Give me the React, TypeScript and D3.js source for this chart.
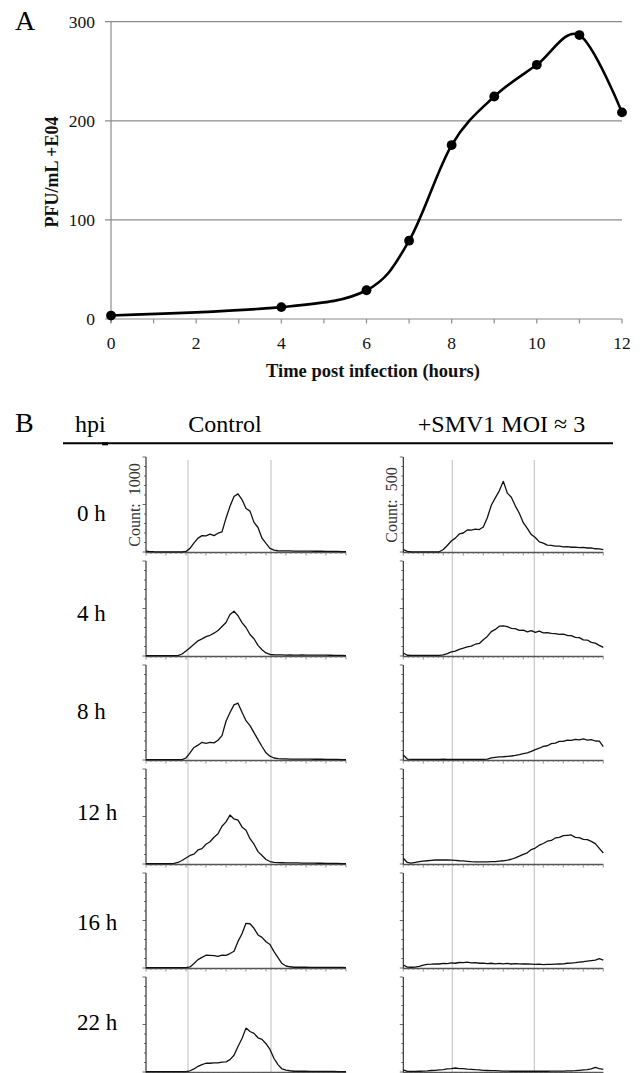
import React from 'react';
import * as d3 from 'd3';

// ---------- Panel A data ----------
const HOURS = [0, 4, 6, 7, 8, 9, 10, 11, 12];
const PFU = [3.5, 12, 29, 79, 175.5, 224.5, 256.5, 286.5, 208.5];
const X_TICK_LABELS = [0, 2, 4, 6, 8, 10, 12];
const Y_TICK_LABELS = [0, 100, 200, 300];

// ---------- Panel B data ----------
const ROW_LABELS = ['0 h', '4 h', '8 h', '12 h', '16 h', '22 h'];
const CHANNELS = [0, 4, 8, 12, 16, 20, 24, 28, 32, 36, 40, 44, 48, 52, 56, 60, 64, 68, 72, 76, 80, 84, 88, 92, 96, 100, 104, 108, 112, 116, 120, 124, 128, 132, 136, 140, 144, 148, 152, 156, 160, 164, 168, 172, 176, 180, 184, 188, 192, 196, 200];
const CONTROL_MAX = 1000;
const SMV1_MAX = 500;
const CONTROL_GATES = [42, 125];
const SMV1_GATES = [49, 131];

const CONTROL_0H = [10, 5, 3, 2, 2, 2, 2, 2, 2, 2, 6, 38, 96, 146, 172, 170, 188, 172, 198, 212, 356, 482, 585, 612, 552, 458, 430, 312, 258, 145, 90, 38, 20, 13, 12, 11, 11, 10, 10, 9, 10, 9, 8, 8, 8, 7, 7, 6, 6, 5, 4];
const CONTROL_4H = [5, 3, 3, 3, 3, 3, 3, 3, 5, 21, 53, 88, 124, 160, 180, 204, 218, 240, 268, 310, 352, 436, 472, 424, 352, 300, 226, 182, 112, 66, 32, 16, 13, 11, 11, 10, 11, 10, 10, 11, 10, 10, 9, 10, 9, 9, 8, 7, 6, 6, 5];
const CONTROL_8H = [5, 3, 3, 3, 3, 3, 3, 3, 3, 3, 21, 74, 132, 156, 186, 176, 186, 180, 208, 256, 408, 500, 580, 598, 502, 414, 362, 288, 214, 142, 76, 40, 21, 14, 11, 11, 10, 10, 10, 9, 9, 9, 8, 8, 8, 7, 7, 6, 6, 5, 5];
const CONTROL_12H = [3, 3, 3, 3, 3, 3, 3, 7, 16, 37, 63, 90, 104, 148, 162, 208, 234, 282, 318, 398, 444, 516, 474, 462, 390, 356, 266, 208, 130, 90, 47, 26, 18, 14, 13, 12, 12, 11, 11, 10, 10, 9, 9, 8, 8, 7, 7, 6, 6, 5, 5];
const CONTROL_16H = [3, 3, 3, 3, 3, 3, 3, 3, 3, 3, 3, 11, 47, 88, 112, 134, 132, 130, 122, 135, 133, 152, 176, 280, 360, 470, 466, 418, 348, 322, 276, 248, 172, 110, 47, 21, 13, 8, 8, 8, 8, 7, 7, 7, 7, 7, 6, 6, 6, 6, 5];
const CONTROL_22H = [3, 3, 3, 3, 3, 3, 3, 3, 3, 3, 3, 13, 32, 60, 77, 92, 92, 97, 95, 103, 107, 130, 176, 268, 352, 462, 426, 406, 360, 344, 298, 238, 142, 78, 32, 19, 13, 8, 8, 8, 8, 7, 7, 7, 6, 6, 6, 6, 5, 5, 5];

const SMV1_0H = [12, 3, 1, 1, 1, 1, 1, 1, 1, 1, 13, 34, 58, 73, 95, 100, 116, 115, 120, 118, 132, 180, 246, 285, 322, 372, 310, 288, 243, 204, 154, 124, 92, 76, 53, 47, 36, 35, 31, 31, 27, 28, 25, 26, 23, 24, 21, 22, 17, 16, 12];
const SMV1_4H = [16, 4, 3, 3, 3, 3, 3, 3, 3, 3, 6, 13, 22, 26, 35, 41, 48, 52, 62, 66, 86, 103, 128, 140, 157, 158, 155, 145, 144, 135, 136, 127, 134, 124, 131, 122, 123, 119, 118, 114, 115, 108, 107, 98, 97, 85, 84, 72, 68, 56, 45];
const SMV1_8H = [26, 5, 3, 3, 3, 3, 3, 3, 3, 3, 4, 3, 3, 3, 3, 3, 3, 3, 3, 3, 3, 5, 11, 14, 16, 17, 19, 21, 24, 28, 33, 38, 45, 55, 62, 72, 75, 86, 89, 98, 98, 105, 103, 109, 106, 111, 105, 107, 100, 99, 70];
const SMV1_12H = [30, 8, 5, 8, 12, 15, 17, 19, 21, 21, 21, 21, 20, 19, 17, 16, 14, 12, 11, 11, 11, 11, 12, 13, 15, 17, 20, 25, 32, 41, 51, 59, 76, 84, 99, 108, 120, 124, 137, 140, 149, 151, 153, 140, 139, 130, 128, 119, 107, 82, 58];
const SMV1_16H = [16, 5, 4, 5, 9, 15, 19, 20, 22, 21, 24, 23, 27, 25, 29, 28, 31, 27, 28, 25, 26, 23, 25, 22, 24, 22, 24, 21, 23, 22, 21, 21, 20, 19, 20, 18, 19, 19, 20, 21, 22, 25, 26, 28, 31, 33, 36, 39, 42, 49, 42];
const SMV1_22H = [11, 3, 3, 3, 4, 5, 6, 8, 9, 11, 13, 16, 18, 21, 18, 18, 15, 14, 12, 11, 9, 8, 7, 7, 6, 5, 5, 4, 4, 4, 4, 4, 4, 4, 4, 4, 4, 5, 5, 5, 5, 6, 6, 7, 9, 11, 13, 16, 24, 18, 14];

const CONTROL_SERIES = [CONTROL_0H, CONTROL_4H, CONTROL_8H, CONTROL_12H, CONTROL_16H, CONTROL_22H];
const SMV1_SERIES = [SMV1_0H, SMV1_4H, SMV1_8H, SMV1_12H, SMV1_16H, SMV1_22H];

const SERIF = "'Liberation Serif', 'Times New Roman', Times, serif";

// layout
const A_LEFT = 111, A_RIGHT = 622, A_TOP = 21.7, A_BOTTOM = 319;
const ROW0_BASE = 552, ROW_STEP = 104, PLOT_H = 95, PLOT_W = 200;
const COL_X = [146, 403.3];
const ROW_LABEL_Y = [513, 613, 711, 812, 922, 1022];

function Histogram({ values, x0, base, max, countLabel }: { values: number[]; x0: number; base: number; max: number; countLabel?: string }) {
  const x = d3.scaleLinear().domain([0, 200]).range([x0, x0 + PLOT_W]);
  const y = d3.scaleLinear().domain([0, max]).range([base, base - PLOT_H]);
  const line = d3.line<number>().x((_, i) => x(CHANNELS[i])).y((d) => y(d)).curve(d3.curveLinear);
  const yTicks = y.ticks(10);
  const xMinor = d3.range(0, 201, 5);
  return (
    <g>
      <line x1={x0} x2={x0 + PLOT_W} y1={base + 0.5} y2={base + 0.5} stroke="#555" strokeWidth={1.3} />
      {xMinor.map((t) => (
        <line key={'xt' + t} x1={x(t)} x2={x(t)} y1={base + 0.5} y2={base + (t % 20 === 0 ? 3.5 : 2)} stroke="#777" strokeWidth={0.8} />
      ))}
      <line x1={x0} x2={x0} y1={base - PLOT_H} y2={base + 0.5} stroke="#222" strokeWidth={1.1} />
      {yTicks.map((t, i) => (
        <line key={'yt' + i} x1={x0 - (i % 5 === 0 ? 3.5 : 2)} x2={x0} y1={y(t)} y2={y(t)} stroke="#444" strokeWidth={0.8} />
      ))}
      <path d={line(values) || ''} fill="none" stroke="#111" strokeWidth={1.3} strokeLinejoin="round" />
      {countLabel && (
        <text
          transform={`translate(${x0 - 11.5},${base - 47}) rotate(-90)`}
          textAnchor="middle"
          dominantBaseline="central"
          fontFamily={SERIF}
          fontSize={16}
          fill="#333"
          style={{ whiteSpace: 'pre' }}
        >
          {countLabel}
        </text>
      )}
    </g>
  );
}

export default function App() {
  const xA = d3.scaleLinear().domain([0, 12]).range([A_LEFT, A_RIGHT]);
  const yA = d3.scaleLinear().domain([0, 300]).range([A_BOTTOM, A_TOP]);
  const lineA = d3
    .line<number>()
    .x((_, i) => xA(HOURS[i]))
    .y((d) => yA(d))
    .curve(d3.curveCardinal.tension(0));
  const hourTicks = d3.range(0, 13);

  const gateTop = 460;
  const gateBottom = 1073;

  return (
    <svg width={644} height={1073} style={{ position: 'absolute', left: 0, top: 0, background: '#fff' }}>
      <rect x={0} y={0} width={644} height={1073} fill="#fff" />
      {/* Panel A */}
      <text x={15} y={30} fontFamily={SERIF} fontSize={28}>A</text>
      {Y_TICK_LABELS.map((t) => (
        <line key={'g' + t} x1={A_LEFT - 6} x2={A_RIGHT} y1={yA(t)} y2={yA(t)} stroke="#8c8c8c" strokeWidth={1.2} />
      ))}
      <line x1={A_LEFT} x2={A_LEFT} y1={A_TOP} y2={A_BOTTOM + 4} stroke="#8c8c8c" strokeWidth={1.2} />
      {hourTicks.map((t) => (
        <line key={'ht' + t} x1={xA(t)} x2={xA(t)} y1={A_BOTTOM} y2={A_BOTTOM + 4.5} stroke="#8c8c8c" strokeWidth={1.2} />
      ))}
      {Y_TICK_LABELS.map((t) => (
        <text key={'yl' + t} x={95} y={yA(t)} dy="0.34em" textAnchor="end" fontFamily={SERIF} fontSize={17.5} fill="#111">
          {t}
        </text>
      ))}
      {X_TICK_LABELS.map((t) => (
        <text key={'xl' + t} x={xA(t)} y={348.5} textAnchor="middle" fontFamily={SERIF} fontSize={17.5} fill="#111">
          {t}
        </text>
      ))}
      <text x={373} y={377} textAnchor="middle" fontFamily={SERIF} fontWeight="bold" fontSize={18.5} fill="#111">
        Time post infection (hours)
      </text>
      <text
        transform="translate(51.5,172) rotate(-90)"
        textAnchor="middle"
        dominantBaseline="central"
        fontFamily={SERIF}
        fontWeight="bold"
        fontSize={18}
        fill="#111"
      >
        PFU/mL +E04
      </text>
      <path d={lineA(PFU) || ''} fill="none" stroke="#000" strokeWidth={2.6} />
      {PFU.map((v, i) => (
        <circle key={'pt' + i} cx={xA(HOURS[i])} cy={yA(v)} r={4.9} fill="#000" />
      ))}

      {/* Panel B */}
      <text x={15} y={431.7} fontFamily={SERIF} fontSize={28}>B</text>
      <text x={75} y={432} fontFamily={SERIF} fontSize={24}>hpi</text>
      <text x={225} y={432} textAnchor="middle" fontFamily={SERIF} fontSize={24}>Control</text>
      <text x={501.5} y={432} textAnchor="middle" fontFamily={SERIF} fontSize={24}>+SMV1 MOI ≈ 3</text>
      <line x1={63} x2={613} y1={443.3} y2={443.3} stroke="#000" strokeWidth={2} />
      <rect x={102} y={442.3} width={6} height={3} fill="#000" />

      {[CONTROL_GATES, SMV1_GATES].map((gates, c) => {
        const x = d3.scaleLinear().domain([0, 200]).range([COL_X[c], COL_X[c] + PLOT_W]);
        return gates.map((g) => (
          <line key={'gate' + c + g} x1={x(g)} x2={x(g)} y1={gateTop} y2={gateBottom} stroke="#c9c9c9" strokeWidth={1.2} />
        ));
      })}

      {ROW_LABELS.map((lab, i) => {
        const base = ROW0_BASE + i * ROW_STEP;
        return (
          <g key={'row' + i}>
            <text x={77} y={ROW_LABEL_Y[i]} dominantBaseline="central" fontFamily={SERIF} fontSize={23}>
              {lab}
            </text>
            <Histogram values={CONTROL_SERIES[i]} x0={COL_X[0]} base={base} max={CONTROL_MAX} countLabel={i === 0 ? 'Count:  1000' : undefined} />
            <Histogram values={SMV1_SERIES[i]} x0={COL_X[1]} base={base} max={SMV1_MAX} countLabel={i === 0 ? 'Count:  500' : undefined} />
          </g>
        );
      })}
    </svg>
  );
}
